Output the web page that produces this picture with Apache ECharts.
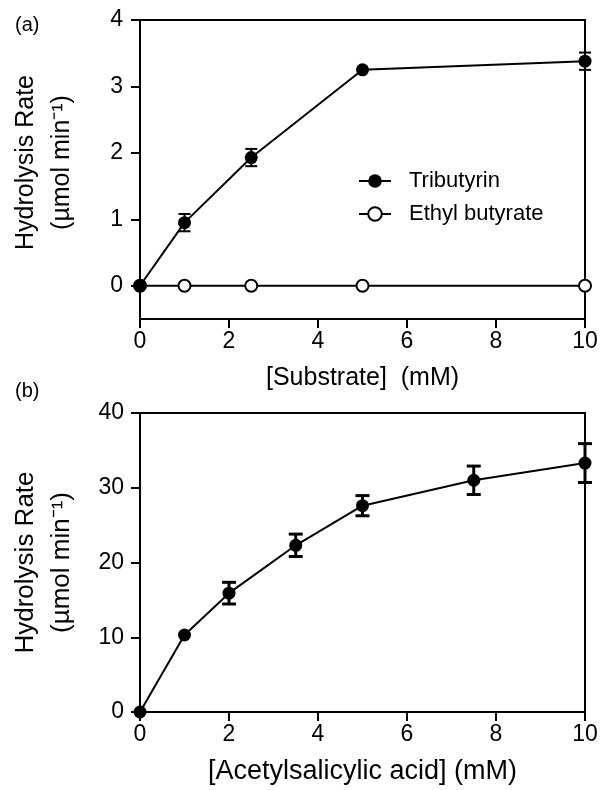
<!DOCTYPE html>
<html>
<head>
<meta charset="utf-8">
<script src="https://cdn.jsdelivr.net/npm/echarts@6/dist/echarts.min.js"></script>
<style>
  html, body { margin: 0; padding: 0; background: #fff; }
  #chart { width: 601px; height: 790px; }
</style>
</head>
<body>
<div id="chart"></div>
<script>
// panel (a)
const substrateConc = [0, 1, 2.5, 5, 10];
const tributyrinRate = [0, 0.95, 1.93, 3.25, 3.38];
const tributyrinErr = [0, 0.13, 0.13, 0, 0.13];
const ethylButyrateRate = [0, 0, 0, 0, 0];
const rateTicksA = [0, 1, 2, 3, 4];

// panel (b)
const aspirinConc = [0, 1, 2, 3.5, 5, 7.5, 10];
const aspirinRate = [0, 10.3, 15.9, 22.3, 27.6, 31.0, 33.3];
const aspirinErr = [0, 0, 1.45, 1.5, 1.35, 1.9, 2.6];

const font = "'Liberation Sans', Arial, sans-serif";
const yTitle = 'Hydrolysis Rate\n(\u00b5mol min\u207b\u00b9)';

function pairs(xs, ys) {
  return xs.map((x, i) => [x, ys[i]]);
}
function triples(xs, ys, es) {
  return xs.map((x, i) => [x, ys[i], es[i]]);
}

function errorBars(halfCap, width) {
  return function (params, api) {
    const x = api.value(0), y = api.value(1), e = api.value(2);
    if (!e) return;
    const top = api.coord([x, y + e]);
    const bot = api.coord([x, y - e]);
    const style = { stroke: '#000', lineWidth: width };
    return {
      type: 'group',
      children: [
        { type: 'line', shape: { x1: top[0], y1: top[1], x2: bot[0], y2: bot[1] }, style },
        { type: 'line', shape: { x1: top[0] - halfCap, y1: top[1], x2: top[0] + halfCap, y2: top[1] }, style },
        { type: 'line', shape: { x1: bot[0] - halfCap, y1: bot[1], x2: bot[0] + halfCap, y2: bot[1] }, style }
      ]
    };
  };
}

function xAxis(idx, name, gap, nameSize) {
  return {
    type: 'value', gridIndex: idx, min: 0, max: 10, interval: 2,
    name: name, nameLocation: 'middle', nameGap: gap,
    nameTextStyle: { color: '#000', fontSize: nameSize, fontFamily: font },
    axisLine: { onZero: false, lineStyle: { color: '#000', width: 2 } },
    axisTick: { inside: false, length: 9, lineStyle: { color: '#000', width: 2 } },
    axisLabel: { color: '#000', fontSize: 23, fontFamily: font, margin: 11 },
    splitLine: { show: false }
  };
}

const chart = echarts.init(document.getElementById('chart'));
const option = {
  backgroundColor: '#fff',
  animation: false,
  title: [
    { text: '(a)', left: 10, top: 10, textStyle: { fontSize: 20, fontWeight: 'normal', color: '#000', fontFamily: font } },
    { text: '(b)', left: 10, top: 376, textStyle: { fontSize: 20, fontWeight: 'normal', color: '#000', fontFamily: font } }
  ],
  legend: {
    data: ['Tributyrin', 'Ethyl butyrate'],
    orient: 'vertical',
    left: 353, top: 165,
    itemWidth: 32, itemHeight: 17, itemGap: 11,
    textStyle: { color: '#000', fontSize: 22, fontFamily: font, padding: [0, 0, 0, 13] }
  },
  grid: [
    { left: 138, right: 16, top: 20, height: 299, show: true, borderColor: '#000', borderWidth: 2, backgroundColor: 'transparent' },
    { left: 138, right: 16, top: 413, height: 299, show: true, borderColor: '#000', borderWidth: 2, backgroundColor: 'transparent' }
  ],
  xAxis: [
    xAxis(0, '[Substrate]  (mM)', 47, 25),
    xAxis(1, '[Acetylsalicylic acid] (mM)', 46, 27)
  ],
  yAxis: [
    {
      type: 'value', gridIndex: 0, min: -0.5, max: 4,
      name: yTitle, nameLocation: 'middle', nameGap: 60,
      nameTextStyle: { color: '#000', fontSize: 25, lineHeight: 36, fontFamily: font, padding: [0, 0, 0, 14] },
      axisLine: { lineStyle: { color: '#000', width: 2 } },
      axisTick: { inside: false, length: 9, customValues: rateTicksA, lineStyle: { color: '#000', width: 2 } },
      axisLabel: { color: '#000', fontSize: 23, fontFamily: font, margin: 17, customValues: rateTicksA },
      splitLine: { show: false }
    },
    {
      type: 'value', gridIndex: 1, min: 0, max: 40, interval: 10,
      name: yTitle, nameLocation: 'middle', nameGap: 60,
      nameTextStyle: { color: '#000', fontSize: 26, lineHeight: 36, fontFamily: font },
      axisLine: { lineStyle: { color: '#000', width: 2 } },
      axisTick: { inside: false, length: 9, lineStyle: { color: '#000', width: 2 } },
      axisLabel: { color: '#000', fontSize: 23, fontFamily: font, margin: 16 },
      splitLine: { show: false }
    }
  ],
  series: [
    {
      name: 'Ethyl butyrate', type: 'line', xAxisIndex: 0, yAxisIndex: 0,
      data: pairs(substrateConc, ethylButyrateRate),
      symbol: 'emptyCircle', symbolSize: 12, clip: false, z: 2,
      lineStyle: { color: '#000', width: 2 },
      itemStyle: { color: '#000', borderColor: '#000', borderWidth: 2 }
    },
    {
      name: 'Tributyrin', type: 'line', xAxisIndex: 0, yAxisIndex: 0,
      data: pairs(substrateConc, tributyrinRate),
      symbol: 'circle', symbolSize: 13, clip: false, z: 4,
      lineStyle: { color: '#000', width: 2 },
      itemStyle: { color: '#000' }
    },
    {
      type: 'custom', xAxisIndex: 0, yAxisIndex: 0, clip: false, z: 5,
      data: triples(substrateConc, tributyrinRate, tributyrinErr),
      renderItem: errorBars(6, 2)
    },
    {
      name: 'Aspirin', type: 'line', xAxisIndex: 1, yAxisIndex: 1,
      data: pairs(aspirinConc, aspirinRate),
      symbol: 'circle', symbolSize: 13, clip: false, z: 4,
      lineStyle: { color: '#000', width: 2 },
      itemStyle: { color: '#000' }
    },
    {
      type: 'custom', xAxisIndex: 1, yAxisIndex: 1, clip: false, z: 5,
      data: triples(aspirinConc, aspirinRate, aspirinErr),
      renderItem: errorBars(7, 3)
    }
  ]
};
chart.setOption(option);
</script>
</body>
</html>
